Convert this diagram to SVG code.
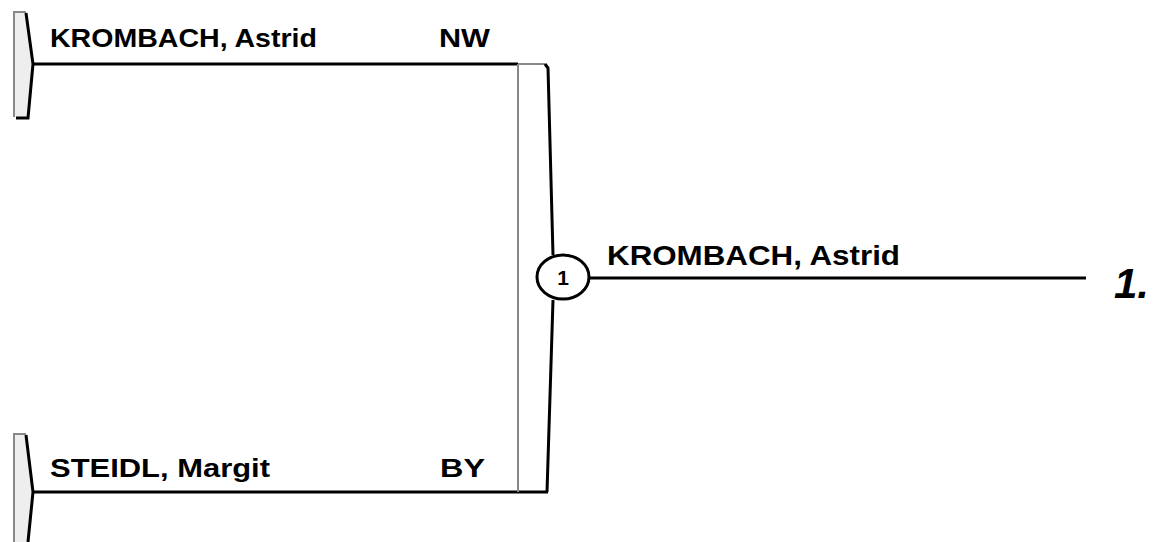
<svg xmlns="http://www.w3.org/2000/svg" width="1161" height="542" viewBox="0 0 1161 542">
<style>
.t{font-family:"Liberation Sans",Arial,sans-serif;font-weight:bold;fill:#000}
.ln{stroke:#000;stroke-width:3;fill:none}
.thin{stroke:#888;stroke-width:2;fill:none}
.cap{fill:#eee;stroke:none}
</style>
<rect width="1161" height="542" fill="#fff"/>
<g id="connectors">
<line class="ln" x1="32" y1="64" x2="518" y2="64"/>
<line class="ln" x1="32" y1="492" x2="548" y2="492"/>
<line class="ln" x1="590" y1="278" x2="1086" y2="278"/>
</g>
<g id="node-top">
<path class="cap" d="M14,12 L26,12 L33,64 L28,117 L14,117 Z"/>
<path class="thin" d="M14,117 L14,12 L26,12"/>
<path class="ln" d="M26,13 L33,64 L28,118 L16,118"/>
<text class="t" x="50" y="47" font-size="25" textLength="267" lengthAdjust="spacingAndGlyphs">KROMBACH, Astrid</text>
<text class="t" x="439" y="47" font-size="25" textLength="51" lengthAdjust="spacingAndGlyphs">NW</text>
</g>
<g id="node-bottom">
<path class="cap" d="M14,434 L26,434 L33,492 L28,542 L14,542 Z"/>
<path class="thin" d="M14,542 L14,434 L26,434"/>
<path class="ln" d="M26,435 L33,492 L28,542"/>
<text class="t" x="50" y="477" font-size="26" textLength="220" lengthAdjust="spacingAndGlyphs">STEIDL, Margit</text>
<text class="t" x="440" y="477" font-size="26" textLength="45" lengthAdjust="spacingAndGlyphs">BY</text>
</g>
<g id="node-match">
<path class="thin" d="M518,64 L518,492"/>
<path class="thin" d="M518,64 L545,64"/>
<path class="ln" d="M545,64 L548,68 L553,255 M553,300 L547,492"/>
<ellipse cx="563" cy="277" rx="26" ry="22" fill="#fff" stroke="#000" stroke-width="3"/>
<text class="t" x="563" y="285" font-size="21" text-anchor="middle" fill="#222">1</text>
<text class="t" x="607" y="265" font-size="28" textLength="293" lengthAdjust="spacingAndGlyphs">KROMBACH, Astrid</text>
</g>
<g id="node-result">
<text class="t" x="1114" y="298" font-size="42" font-style="italic">1.</text>
</g>
</svg>
